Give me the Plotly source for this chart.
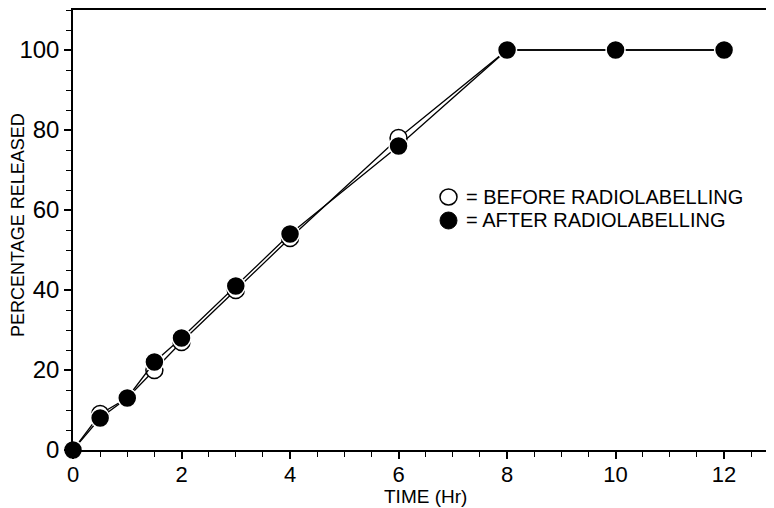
import plotly.graph_objects as go

time_hr = [0, 0.5, 1, 1.5, 2, 3, 4, 6, 8, 10, 12]
before_pct = [0, 9, 13, 20, 27, 40, 53, 78, 100, 100, 100]
after_pct = [0, 8, 13, 22, 28, 41, 54, 76, 100, 100, 100]
y_ticks = [0, 20, 40, 60, 80, 100]
x_ticks = [0, 2, 4, 6, 8, 10, 12]

FONT = "Liberation Sans"
OFF = 8  # default page body margin
L, T, W, H = 73, 10, 701, 440  # plot area in window pixels

def px(x):
    return (x - L) / W

def py(y):
    return (T + H - y) / H

fig = go.Figure()
fig.add_trace(go.Scatter(
    x=time_hr, y=before_pct, mode="lines+markers",
    line=dict(color="black", width=1.3),
    marker=dict(symbol="circle", size=17, color="white",
                line=dict(color="black", width=1.5)),
    cliponaxis=False, showlegend=False))
fig.add_trace(go.Scatter(
    x=time_hr, y=after_pct, mode="lines+markers",
    line=dict(color="black", width=1.3),
    marker=dict(symbol="circle", size=19, color="black",
                line=dict(color="white", width=1.5)),
    cliponaxis=False, showlegend=False))

# legend drawn as shapes + text
fig.add_shape(type="circle", xref="paper", yref="paper",
              x0=px(440), x1=px(457), y0=py(205), y1=py(189),
              line=dict(color="black", width=1.5), fillcolor="white")
fig.add_shape(type="circle", xref="paper", yref="paper",
              x0=px(440), x1=px(457), y0=py(229), y1=py(212),
              line=dict(color="black", width=1), fillcolor="black")
fig.add_annotation(xref="paper", yref="paper", x=px(464), y=py(197),
                   text="= BEFORE RADIOLABELLING", showarrow=False, xanchor="left",
                   yanchor="middle", font=dict(family=FONT, size=20, color="black"))
fig.add_annotation(xref="paper", yref="paper", x=px(464), y=py(220),
                   text="= AFTER RADIOLABELLING", showarrow=False, xanchor="left",
                   yanchor="middle", font=dict(family=FONT, size=20, color="black"))
# axis titles
fig.add_annotation(xref="paper", yref="paper", x=px(425), y=py(496),
                   text="TIME (Hr)", showarrow=False, xanchor="center",
                   yanchor="middle", font=dict(family=FONT, size=19, color="black"))
fig.add_annotation(xref="paper", yref="paper", x=px(18), y=py(225),
                   text="PERCENTAGE RELEASED", showarrow=False, textangle=-90,
                   xanchor="center", yanchor="middle",
                   font=dict(family=FONT, size=18, color="black"))

fig.update_layout(
    width=774 - OFF, height=508 - OFF,
    margin=dict(l=L - OFF, r=0, t=T - OFF, b=508 - T - H, pad=0),
    paper_bgcolor="white", plot_bgcolor="white",
    font=dict(family=FONT, color="black"),
    xaxis=dict(range=[0, 12.92], tickvals=x_ticks, ticks="outside", ticklen=7,
               tickwidth=1.5, tickcolor="black", showline=True, linecolor="black",
               linewidth=1.5, mirror=True, showgrid=False, zeroline=False,
               automargin=False, tickfont=dict(size=22, family=FONT),
               ticklabelstandoff=-3,
               minor=dict(dtick=0.5, ticks="outside", ticklen=5, tickwidth=1.2, tickcolor="black")),
    yaxis=dict(range=[0, 110], tickvals=y_ticks, ticks="outside", ticklen=7,
               tickwidth=1.5, tickcolor="black", showline=True, linecolor="black",
               linewidth=1.5, showgrid=False, zeroline=False,
               automargin=False, tickfont=dict(size=24, family=FONT),
               minor=dict(dtick=5, ticks="outside", ticklen=5, tickwidth=1.2, tickcolor="black")),
)

fig.write_html("out.html")
